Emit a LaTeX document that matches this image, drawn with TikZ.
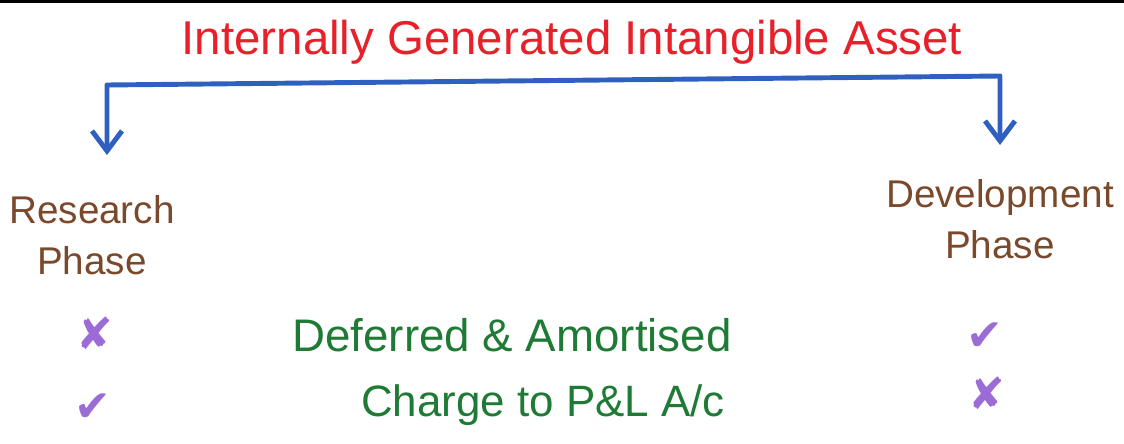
\documentclass[tikz,border=0pt]{standalone}
\usepackage{fontspec}
\setmainfont{Liberation Sans}
\newfontfamily\symfont{DejaVu Sans}
\usetikzlibrary{positioning,arrows.meta}
\definecolor{titlered}{RGB}{232,32,42}
\definecolor{bracketblue}{RGB}{47,95,191}
\definecolor{phasebrown}{RGB}{122,72,42}
\definecolor{markpurple}{RGB}{155,107,214}
\definecolor{notegreen}{RGB}{30,122,52}
\tikzset{
  heading/.style={text=titlered,font=\fontsize{27}{32}\selectfont,inner sep=0pt},
  phase/.style={text=phasebrown,font=\fontsize{22}{29}\selectfont,align=center,inner sep=0pt},
  tick/.style={text=markpurple,font=\symfont\fontsize{25}{28}\selectfont,inner sep=0pt},
  note/.style={text=notegreen,font=\fontsize{25}{30}\selectfont,inner sep=0pt},
  bracket/.style={draw=bracketblue,line width=2.8pt,line join=round,
    {Straight Barb[length=4mm,width=6mm]}-{Straight Barb[length=4mm,width=6mm]}}
}
\begin{document}
\begin{tikzpicture}[x=0.02cm,y=-0.02cm]
		\useasboundingbox (0,0) rectangle (1124,443);
		\draw[line width=2pt] (0,1) -- (1124,1);

		\node[heading] (title) at (572,42) {Internally Generated Intangible Asset};

		\node[phase] (research) at (92,235) {Research\\Phase};
		\node[phase] (development) at (1000,219) {Development\\Phase};

		\coordinate (ltip) at (107,155);
		\coordinate (rtip) at (1000,145);
		\draw[bracket] (ltip) -- (107,85) -- (1000,76) -- (rtip);

		\node[tick] (rno) at (95,333) {✘};
		\node[tick] (ryes) at (93,408) {✔};
		\node[tick] (dyes) at (985,337) {✔};
		\node[tick] (dno) at (987,393) {✘};

		\node[note,font=\fontsize{26}{30}\selectfont] (defer) at (512,335) {Deferred \& Amortised};
		\node[note] (charge) at (543,405) {Charge to P\&L A/c};
	\end{tikzpicture}
\end{document}
